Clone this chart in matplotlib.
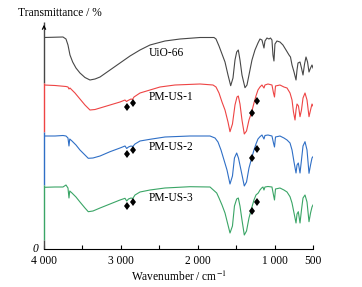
import matplotlib
matplotlib.use("Agg")
import matplotlib.pyplot as plt
import numpy as np

plt.rcParams['font.family'] = ['Liberation Serif', 'DejaVu Serif']
plt.rcParams['mathtext.fontset'] = 'stix'

# FT-IR spectra (wavenumber in cm-1, transmittance in arbitrary offset units)
uio_wn = [4000, 3753, 3714, 3688, 3662, 3627, 3584, 3532, 3467, 3402, 3336, 3271,
          3141, 3011, 2881, 2751, 2621, 2426, 2230, 1970, 1788, 1762, 1723, 1684,
          1645, 1606, 1571, 1541, 1515, 1493, 1472, 1450, 1424, 1385, 1359, 1333,
          1294, 1255, 1216, 1190, 1164, 1138, 1125, 1099, 1073, 1053, 1034, 1021,
          1008, 995, 969, 930, 891, 851, 812, 793, 773, 747, 721, 708, 695, 669,
          650, 630, 610, 591, 571, 552, 532, 513, 500]
uio_t = [211.5, 212, 210, 204, 194, 187, 181, 176, 171.5, 169, 170, 172,
         179, 186, 193, 199, 204, 208, 210, 211.5, 211.5, 210, 203, 195,
         187, 174, 163.3, 171, 189, 197, 199, 189, 174, 161.3, 164, 174,
         189, 199, 206, 210, 209, 201, 208, 211, 210, 211, 209, 194,
         188, 205, 208, 207, 204, 199, 194, 192, 184, 177, 169, 179, 186, 187,
         181, 174, 185, 192, 187, 177, 181, 184, 181]

pm1_wn = [4000, 3857, 3714, 3688, 3675, 3662, 3597, 3532, 3467, 3402, 3336, 3141,
          3011, 2946, 2927, 2907, 2868, 2849, 2829, 2751, 2621, 2491, 2296, 1970,
          1801, 1762, 1723, 1684, 1645, 1606, 1580, 1548, 1515, 1489, 1472, 1450,
          1424, 1394, 1365, 1333, 1298, 1268, 1242, 1216, 1190, 1164, 1138, 1125,
          1086, 1034, 1014, 1001, 988, 930, 878, 838, 799, 773, 754, 734, 721,
          708, 689, 669, 650, 630, 604, 578, 552, 532, 513, 500]
pm1_t = [164, 163.5, 162.5, 162, 160, 161, 156, 150, 144, 139, 139.5, 144,
         147, 149, 147.5, 148.5, 150, 149.5, 152, 156, 159, 162, 164, 165,
         164, 162, 156, 147, 139, 127, 117.3, 125, 144, 152, 153, 145,
         129, 115, 118, 129, 137, 146, 153, 159, 162, 164, 161, 164,
         165, 164, 156, 152, 163, 164, 162, 161, 156, 149, 137, 129, 139,
         145, 143, 132.3, 139, 151, 156, 149, 132.3, 139, 145, 143]

pm2_wn = [4000, 3857, 3753, 3714, 3688, 3675, 3665, 3636, 3584, 3532, 3467, 3424,
          3363, 3271, 3141, 3011, 2946, 2924, 2901, 2868, 2845, 2816, 2751, 2621,
          2426, 2100, 1840, 1775, 1736, 1697, 1658, 1619, 1580, 1548, 1522, 1493,
          1470, 1437, 1394, 1365, 1333, 1298, 1268, 1242, 1216, 1190, 1164, 1138,
          1125, 1086, 1034, 1014, 1001, 988, 930, 878, 838, 799, 773, 747, 721,
          708, 691, 669, 650, 630, 604, 578, 552, 532, 513, 500]
pm2_t = [113, 113, 113.5, 113, 111, 103, 110, 108, 104, 99, 94, 90.7,
         91, 93, 97.3, 101, 103, 100.5, 102, 103, 102.5, 105, 108, 109.7,
         112, 113, 113, 111, 107, 99, 89, 79, 65, 73, 91, 96,
         91, 79, 63, 67, 81, 91, 99, 105, 110, 112.3, 114, 110,
         113.5, 114, 113, 106, 102, 112, 113, 111, 109, 106, 99, 87, 76,
         84, 86, 76, 89, 103, 107.3, 99, 75.7, 84, 91, 92.3]

pm3_wn = [4000, 3857, 3753, 3714, 3688, 3675, 3665, 3636, 3584, 3532, 3467, 3424,
          3363, 3271, 3141, 3011, 2946, 2924, 2901, 2868, 2845, 2816, 2751, 2621,
          2426, 2100, 1840, 1753, 1723, 1684, 1645, 1606, 1580, 1548, 1522, 1493,
          1472, 1450, 1424, 1394, 1365, 1333, 1298, 1268, 1242, 1212, 1190, 1168,
          1151, 1138, 1125, 1086, 1034, 1014, 1001, 988, 930, 878, 838, 799, 773,
          747, 721, 708, 691, 669, 650, 630, 604, 578, 552, 532, 513, 500]
pm3_t = [61.7, 62, 62, 64, 61, 51, 58, 56, 52, 47, 41, 37.3,
         38, 41, 45, 49, 50.7, 48, 50, 51, 50.5, 54, 57, 59,
         61, 62.3, 62, 56, 51, 44, 36, 24, 16, 23, 43, 50,
         51, 43, 29, 14, 18, 31, 41, 49, 54, 56, 59, 61,
         62, 59, 62, 62.5, 62, 54, 49, 60, 61, 59, 57, 52.3, 46,
         36, 26, 35, 37.3, 26, 39, 51, 54, 47, 27.3, 36, 42, 44]

labels = ['UiO-66', 'PM-US-1', 'PM-US-2', 'PM-US-3']
colors = ['#474747', '#ee4444', '#2f6fc6', '#3aa566']
label_t = [196, 152, 102.3, 50.7]

# diamond markers (CH2 bands of the polymer)
dia_wn = [2917, 2838, 1298, 1233]
dia_t = {'PM-US-1': [142, 146.3, 135.7, 148.3],
         'PM-US-2': [95, 99, 90.7, 99.7],
         'PM-US-3': [43, 47.3, 38.3, 47.3]}

# left axis is drawn in the colour of the trace next to it
spine_seg = [(166, 227), (117, 166), (64, 117), (9, 64), (0, 9)]
spine_col = colors + ['#474747']

fig = plt.figure(figsize=(3.62, 2.87), dpi=100)
ax = fig.add_axes([44/362, 1 - 249/287, 269/362, 227/287])

series = [(uio_wn, uio_t), (pm1_wn, pm1_t), (pm2_wn, pm2_t), (pm3_wn, pm3_t)]
for (wn, t), lab, col, ty in zip(series, labels, colors, label_t):
    ax.plot(wn, t, color=col, lw=0.8)
    ax.text(2635, ty, lab, fontsize=8.3, ha='left', va='center')

for key, ys in dia_t.items():
    ax.plot(dia_wn, ys, ls='none', marker='d', ms=4.5, color='black',
            markeredgewidth=0)

for (y0, y1), col in zip(spine_seg, spine_col):
    ax.plot([4000, 4000], [y0, y1], color=col, lw=1.0, clip_on=False,
            solid_capstyle='butt')

ax.set_xlim(4000, 500)
ax.set_ylim(0, 227)
ax.spines['top'].set_visible(False)
ax.spines['right'].set_visible(False)
ax.spines['left'].set_visible(False)
ax.spines['bottom'].set_linewidth(0.8)
ax.set_yticks([])
ax.set_xticks([4000, 3000, 2000, 1000, 500])
ax.set_xticklabels(['4 000', '3 000', '2 000', '1 000', '500'])
ax.set_xticks([3500, 2500, 1500], minor=True)
ax.tick_params(axis='x', which='both', direction='in', length=3, width=0.8,
               labelsize=8.3, pad=4)
ax.set_xlabel(r'Wavenumber / cm$^{-1}$', fontsize=8.3, labelpad=2)

# arrow head on the y axis
ax.annotate('', xy=(0, 1.0), xytext=(0, 0.96), xycoords='axes fraction',
            arrowprops=dict(arrowstyle='->', color='black', lw=0.8,
                            mutation_scale=6))

fig.text(18/362, 1 - 13/287, 'Transmittance / %', fontsize=8.3,
         ha='left', va='center')
fig.text(35/362, 1 - 249/287, '0', fontsize=8.3, style='italic',
         ha='center', va='center')

fig.savefig('out.png', dpi=100, facecolor='white')
